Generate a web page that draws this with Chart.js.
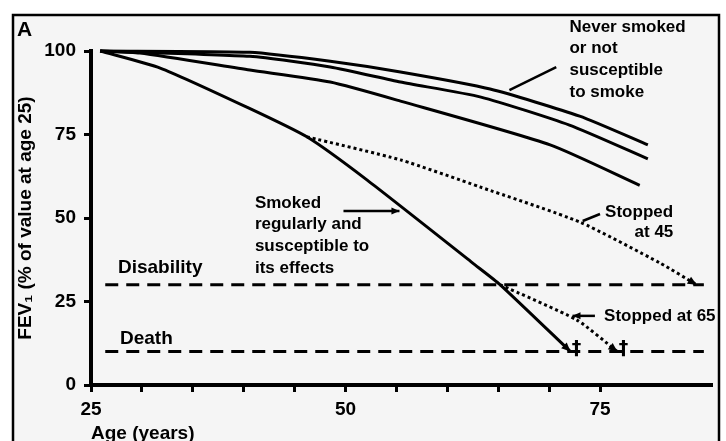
<!DOCTYPE html>
<html>
<head>
<meta charset="utf-8">
<script src="https://cdn.jsdelivr.net/npm/chart.js@4/dist/chart.umd.min.js"></script>
<style>
  html, body { margin: 0; padding: 0; background: #fff; }
  #wrap { width: 726px; height: 441px; }
</style>
</head>
<body>
<div id="wrap"><canvas id="fev" width="726" height="441"></canvas></div>
<script>
const xTicks = [25, 30, 35, 40, 45, 50, 55, 60, 65, 70, 75]
const xLabels = [25, 50, 75]
const yTicks = [0, 25, 50, 75, 100]

// three "never smoked / not susceptible" curves
const neverA_ages = [25.9, 40.6, 48.5, 55.4, 64.2, 73.0, 79.7]
const neverA_fev = [100, 99.6, 96.9, 93.7, 88.6, 80.5, 71.9]
const neverB_ages = [25.9, 40.6, 48.5, 55.4, 63.3, 72.0, 79.7]
const neverB_fev = [100, 98.4, 95.2, 90.7, 86.2, 77.8, 67.7]
const neverC_ages = [25.9, 29.8, 40.6, 48.5, 55.4, 70.1, 78.9]
const neverC_fev = [100, 99.4, 94.3, 90.7, 85.0, 71.9, 59.8]

// smoked regularly and susceptible
const smoker_ages = [25.9, 31.8, 40.3, 46.2, 52.1, 62.5, 65.2, 72.1]
const smoker_fev = [100, 94.9, 83.2, 74.3, 61.4, 36.5, 30.0, 10.0]

// stopped at 45 / stopped at 65
const stop45_ages = [46.2, 55.4, 63.2, 73.0, 80.9, 84.5]
const stop45_fev = [74.3, 67.4, 59.3, 48.8, 36.5, 30.0]
const stop65_ages = [65.2, 72.7, 76.7]
const stop65_fev = [30.0, 19.5, 10.0]

const disabilityLevel = 30
const deathLevel = 10
const levelRange = [26.4, 85.2]
const daggerAges = [72.7, 77.3]

const family = '"Liberation Sans", Arial, sans-serif'
Chart.defaults.font.family = family
Chart.defaults.font.weight = 'bold'
Chart.defaults.color = '#000'

function pts (ages, vals) {
  return ages.map((a, i) => ({ x: a, y: vals[i] }))
}

function solid (label, data) {
  return { label, data, borderColor: '#000', borderWidth: 3, pointRadius: 0, tension: 0.2, fill: false, clip: false }
}

function dotted (label, data) {
  return { label, data, borderColor: '#000', borderWidth: 3, borderDash: [3, 3], pointRadius: 0, tension: 0.2, fill: false, clip: false }
}

function level (label, y) {
  return { label, data: [{ x: levelRange[0], y }, { x: levelRange[1], y }], borderColor: '#000', borderWidth: 3, borderDash: [13, 8], pointRadius: 0, fill: false, clip: false }
}

function arrowHead (ctx, x1, y1, x2, y2, len, half) {
  const ang = Math.atan2(y2 - y1, x2 - x1)
  ctx.beginPath()
  ctx.moveTo(x2, y2)
  ctx.lineTo(x2 - len * Math.cos(ang) + half * Math.sin(ang), y2 - len * Math.sin(ang) - half * Math.cos(ang))
  ctx.lineTo(x2 - len * Math.cos(ang) - half * Math.sin(ang), y2 - len * Math.sin(ang) + half * Math.cos(ang))
  ctx.closePath()
  ctx.fill()
}

const notes = {
  id: 'notes',
  beforeDraw (chart) {
    const { ctx } = chart
    ctx.save()
    ctx.fillStyle = '#fff'
    ctx.fillRect(0, 0, chart.width, chart.height)
    ctx.fillStyle = '#f5f5f5'
    ctx.fillRect(13, 15, 706, 440)
    ctx.strokeStyle = '#000'
    ctx.lineWidth = 2.5
    ctx.strokeRect(13, 15, 706, 470)
    ctx.fillStyle = '#000'
    ctx.font = 'bold 21px ' + family
    ctx.textBaseline = 'alphabetic'
    ctx.fillText('A', 17, 36)
    ctx.restore()
  },
  afterDatasetsDraw (chart) {
    const { ctx } = chart
    const sx = chart.scales.x
    const sy = chart.scales.y
    const px = v => sx.getPixelForValue(v)
    const py = v => sy.getPixelForValue(v)
    ctx.save()
    ctx.fillStyle = '#000'
    ctx.strokeStyle = '#000'
    ctx.textBaseline = 'middle'

    const block = (lines, age, val, align, size) => {
      ctx.font = 'bold ' + size + 'px ' + family
      ctx.textAlign = align
      lines.forEach((t, i) => ctx.fillText(t, px(age), py(val) + i * 21.7))
    }
    block(['Never smoked', 'or not', 'susceptible', 'to smoke'], 72.0, 107.2, 'left', 17)
    block(['Smoked', 'regularly and', 'susceptible to', 'its effects'], 41.1, 54.5, 'left', 17)
    block(['Stopped'], 75.5, 51.8, 'left', 17)
    block(['at 45'], 82.2, 45.8, 'right', 17)
    block(['Stopped at 65'], 75.4, 20.7, 'left', 17)
    block(['Disability'], 27.65, 35.0, 'left', 19)
    block(['Death'], 27.85, 13.8, 'left', 19)

    // pointers
    const seg = (a1, v1, a2, v2, head) => {
      ctx.lineWidth = 2.5
      ctx.beginPath()
      ctx.moveTo(px(a1), py(v1))
      ctx.lineTo(px(a2), py(v2))
      ctx.stroke()
      if (head) arrowHead(ctx, px(a1), py(v1), px(a2), py(v2), 8, 3.5)
    }
    seg(70.7, 95.2, 66.1, 88.3, false)
    seg(49.8, 52.1, 55.3, 52.1, true)
    seg(75.0, 51.2, 73.3, 49.1, false)
    seg(74.5, 20.7, 72.3, 20.7, true)

    // arrow heads where the curves end
    const ends = [[smoker_ages, smoker_fev], [stop45_ages, stop45_fev], [stop65_ages, stop65_fev]]
    for (const [ages, vals] of ends) {
      const n = ages.length
      arrowHead(ctx, px(ages[n - 2]), py(vals[n - 2]), px(ages[n - 1]), py(vals[n - 1]), 9, 4)
    }

    // daggers
    ctx.font = 'bold 19px "DejaVu Sans", sans-serif'
    ctx.textAlign = 'center'
    ctx.textBaseline = 'alphabetic'
    for (const a of daggerAges) ctx.fillText('\u2020', px(a), py(deathLevel) + 2)
    ctx.restore()
  }
}

const tickGrid = { display: true, drawOnChartArea: false, drawTicks: true, tickLength: 7, tickWidth: 3, tickColor: '#000' }

new Chart(document.getElementById('fev'), {
  type: 'line',
  data: {
    datasets: [
      solid('Never smoked A', pts(neverA_ages, neverA_fev)),
      solid('Never smoked B', pts(neverB_ages, neverB_fev)),
      solid('Never smoked C', pts(neverC_ages, neverC_fev)),
      solid('Smoked regularly and susceptible', pts(smoker_ages, smoker_fev)),
      dotted('Stopped at 45', pts(stop45_ages, stop45_fev)),
      dotted('Stopped at 65', pts(stop65_ages, stop65_fev)),
      level('Disability', disabilityLevel),
      level('Death', deathLevel)
    ]
  },
  options: {
    responsive: false,
    devicePixelRatio: 1,
    animation: false,
    layout: { padding: { left: 0, top: 51, right: 14, bottom: 0 } },
    plugins: { legend: { display: false }, tooltip: { enabled: false } },
    scales: {
      x: {
        type: 'linear',
        min: 25,
        max: 86,
        afterFit: s => { s.height = 56 },
        afterBuildTicks: s => { s.ticks = xTicks.map(v => ({ value: v })) },
        ticks: {
          autoSkip: false,
          maxRotation: 0,
          padding: 6,
          font: { size: 19, weight: 'bold' },
          callback: v => xLabels.includes(v) ? String(v) : ''
        },
        grid: tickGrid,
        border: { display: true, color: '#000', width: 4 },
        title: {
          display: true,
          text: 'Age (years)',
          align: 'start',
          font: { size: 19, weight: 'bold', lineHeight: 1 },
          padding: { top: 0, bottom: -2 }
        }
      },
      y: {
        min: 0,
        max: 100,
        afterFit: s => { s.width = 91 },
        afterBuildTicks: s => { s.ticks = yTicks.map(v => ({ value: v })) },
        ticks: { padding: 8, font: { size: 19, weight: 'bold' } },
        grid: tickGrid,
        border: { display: true, color: '#000', width: 4 },
        title: {
          display: true,
          text: 'FEV\u2081 (% of value at age 25)',
          font: { size: 19, weight: 'bold', lineHeight: 1.2 },
          padding: { top: 14, bottom: 0 }
        }
      }
    }
  },
  plugins: [notes]
})
</script>
</body>
</html>
